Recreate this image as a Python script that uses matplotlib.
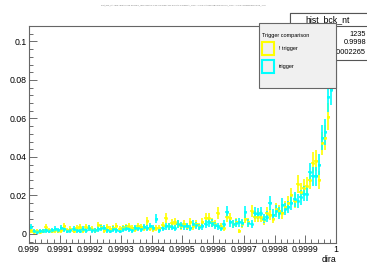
import numpy as np
import matplotlib
matplotlib.use("Agg")
import matplotlib.pyplot as plt
from matplotlib.patches import Rectangle
from matplotlib.ticker import MultipleLocator

plt.rcParams['font.family'] = ['Liberation Sans', 'DejaVu Sans']

# histogram: 100 bins of dira between 0.999 and 1
x_lo, x_hi, n_bins = 0.999, 1.0, 100

# normalised bin contents
trig = [0.0035, 0.0015, 0.001, 0.0015, 0.0015, 0.002, 0.0015, 0.002, 0.0025, 0.002,
        0.003, 0.0025, 0.0015, 0.002, 0.0025, 0.002, 0.0015, 0.0025, 0.002, 0.003,
        0.002, 0.002, 0.0025, 0.003, 0.003, 0.002, 0.0015, 0.0025, 0.002, 0.0015,
        0.0025, 0.003, 0.0025, 0.002, 0.003, 0.003, 0.0025, 0.0035, 0.003, 0.004,
        0.003, 0.008, 0.002, 0.003, 0.004, 0.004, 0.0035, 0.003, 0.005, 0.0045,
        0.004, 0.004, 0.003, 0.005, 0.0045, 0.0035, 0.004, 0.005, 0.006, 0.0055,
        0.0045, 0.004, 0.003, 0.005, 0.0115, 0.006, 0.005, 0.0055, 0.006, 0.0055,
        0.0115, 0.0055, 0.005, 0.011, 0.0105, 0.011, 0.008, 0.009, 0.016, 0.010,
        0.012, 0.011, 0.015, 0.013, 0.014, 0.016, 0.018, 0.017, 0.019, 0.021,
        0.021, 0.032, 0.030, 0.030, 0.036, 0.050, 0.053, 0.071, 0.075, 0.0]
not_trig = [0.002, 0.001, 0.0015, 0.001, 0.0015, 0.0035, 0.002, 0.0015, 0.002, 0.0015,
            0.002, 0.004, 0.002, 0.0025, 0.0015, 0.003, 0.0035, 0.002, 0.0035, 0.003,
            0.0025, 0.002, 0.0045, 0.0035, 0.002, 0.0035, 0.0025, 0.003, 0.004, 0.0025,
            0.003, 0.0035, 0.004, 0.003, 0.0025, 0.004, 0.0035, 0.003, 0.0065, 0.003,
            0.0025, 0.003, 0.003, 0.0045, 0.0085, 0.004, 0.0055, 0.006, 0.005, 0.004,
            0.005, 0.0035, 0.006, 0.004, 0.005, 0.004, 0.006, 0.0085, 0.0085, 0.006,
            0.005, 0.011, 0.004, 0.003, 0.009, 0.0085, 0.005, 0.006, 0.0015, 0.005,
            0.008, 0.006, 0.012, 0.009, 0.009, 0.009, 0.007, 0.011, 0.010, 0.008,
            0.013, 0.012, 0.011, 0.014, 0.016, 0.020, 0.017, 0.026, 0.022, 0.024,
            0.025, 0.028, 0.037, 0.038, 0.028, 0.047, 0.050, 0.061, 0.083, 0.0]

n_entries = 1235
stat_values = ["1235", "0.9998", "0.0002265"]

edges = np.linspace(x_lo, x_hi, n_bins + 1)
centers = 0.5 * (edges[:-1] + edges[1:])
half_w = 0.5 * (edges[1] - edges[0])

fig = plt.figure(figsize=(3.67, 2.64), dpi=100)
ax = fig.add_axes([0.079, 0.0795, 0.8365, 0.822])

for vals, col in [(not_trig, '#ffff00'), (trig, '#00ffff')]:
    v = np.array(vals)
    err = np.sqrt(v * n_entries) / n_entries
    m = v > 0
    ax.errorbar(centers[m], v[m], xerr=half_w, yerr=err[m], fmt='s', ms=1.0,
                color=col, ecolor=col, elinewidth=1.2, capsize=0)

ax.set_xlim(x_lo, x_hi)
ax.set_ylim(-0.0047, 0.108)
ax.xaxis.set_minor_locator(MultipleLocator(0.00002))
ax.yaxis.set_minor_locator(MultipleLocator(0.004))
ax.set_xticks(np.arange(0, 11) * 0.0001 + 0.999)
ax.set_xticklabels(['0.999'] + ['0.999%d' % i for i in range(1, 10)] + ['1'])
ax.set_yticks([0, 0.02, 0.04, 0.06, 0.08, 0.1])
ax.set_yticklabels(['0', '0.02', '0.04', '0.06', '0.08', '0.1'])
ax.tick_params(which='both', direction='in', top=False, right=False,
               labelsize=6.3, color='#555555', width=0.6, pad=1.5)
ax.tick_params(which='major', length=6)
ax.tick_params(which='minor', length=3)
for s in ax.spines.values():
    s.set_color('#666666')
    s.set_linewidth(0.8)
fig.text(336 / 367, 1 - 260 / 264, 'dira', fontsize=6.3, ha='right', va='center')

# tiny title
fig.text(0.5, 0.98,
         'hist_bck_nt : dira {dira>0.999 && BDT_response>0.2 && nTracks<400 && '
         'Hlt1TrackMVA_TOS==0 && Hlt2Topo2BodyDecision_TOS==0 && L0HadronDecision_TIS} ',
         fontsize=1.6, ha='center', va='center', color='#777777')

# stats box
st = fig.transFigure
fig.patches.append(Rectangle((290 / 367, 1 - 60 / 264), 80 / 367, 47 / 264,
                             transform=st, fc='white', ec='#555555', lw=0.8, zorder=5))
fig.patches.append(Rectangle((290 / 367, 1 - 26 / 264), 80 / 367, 13 / 264,
                             transform=st, fc='white', ec='#555555', lw=0.8, zorder=5))
fig.text(328 / 367, 1 - 19.5 / 264, 'hist_bck_nt', fontsize=6.3, ha='center',
         va='center', zorder=6)
for i, val in enumerate(stat_values):
    yy = 1 - (34 + 9 * i) / 264
    fig.text(366 / 367, yy, val, fontsize=5.3, ha='right', va='center', zorder=6)

# legend box
fig.patches.append(Rectangle((259 / 367, 1 - 88 / 264), 77 / 367, 65 / 264,
                             transform=st, fc='#f0f0f0', ec='#666666', lw=0.8, zorder=7))
fig.text(262 / 367, 1 - 35 / 264, 'Trigger comparison', fontsize=4.0,
         ha='left', va='center', zorder=8)
for j, (lab, col) in enumerate([('! trigger', '#ffff00'), ('trigger', '#00ffff')]):
    y0 = 42 + 18 * j
    fig.patches.append(Rectangle((262 / 367, 1 - (y0 + 13) / 264), 12 / 367, 13 / 264,
                                 transform=st, fc='none', ec=col, lw=1.5, zorder=8))
    fig.text(279 / 367, 1 - (y0 + 6.5) / 264, lab, fontsize=4.0, ha='left',
             va='center', zorder=8)

fig.savefig('out.png', dpi=100)
